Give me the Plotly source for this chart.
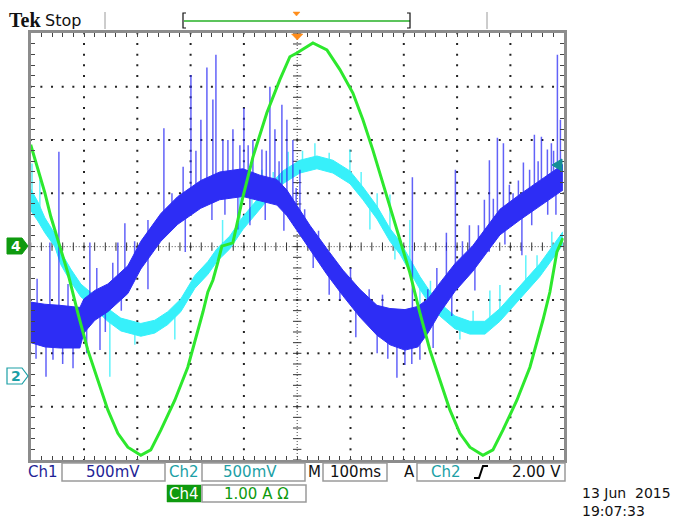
import numpy as np
import plotly.graph_objects as go

# ---------------- data ----------------
# time in ms relative to trigger (100 ms/div)
ch4_t = [-500, -486.5, -473.4, -462.2, -449.1, -430.3, -411.6, -392.8, -374.1, -355.3, -336.5, -317.8,
         -293.4, -274.7, -255.9, -229.6, -205.3, -182.6, -177.0, -167.6, -158.2, -148.8, -141.3, -120.7,
         -101.9, -83.1, -56.9, -32.5, -13.7, -0.6, 29.5, 55.7, 80.1, 104.5, 123.3, 142.0, 155.2, 168.3,
         187.1, 196.4, 211.4, 230.2, 249.0, 267.7, 286.5, 305.3, 324.0, 348.4, 367.2, 385.9, 412.2,
         436.6, 461.0, 474.1, 487.2, 498.5]
ch4_amp = [1.91, 1.44, 1.01, 0.56, 0.13, -0.49, -1.24, -1.94, -2.50, -3.06, -3.50, -3.76,
           -3.91, -3.81, -3.44, -2.88, -2.26, -1.47, -1.23, -0.85, -0.63, -0.29, 0.01, 0.07,
           0.93, 1.68, 2.51, 3.13, 3.56, 3.63, 3.82, 3.69, 3.32, 2.88, 2.38, 1.81, 1.38, 0.93,
           0.31, 0.03, -0.49, -1.24, -1.94, -2.50, -3.06, -3.50, -3.76, -3.91, -3.81, -3.44, -2.88,
           -2.26, -1.38, -0.85, -0.10, 0.16]

ch2_t = [-500, -486.5, -473.4, -454.7, -443.4, -424.8, -406.0, -387.2, -355.3, -330.9, -293.4, -267.2,
         -242.8, -218.4, -191.9, -167.6, -150.7, -126.3, -101.9, -79.4, -56.9, -26.8, 5.1, 37.0, 67.0,
         98.9, 123.3, 149.6, 174.0, 192.7, 211.4, 230.2, 249.0, 267.7, 295.9, 324.0, 352.2, 380.3,
         417.8, 455.3, 492.8, 498.5]
ch2_volt = [1.64, 1.53, 1.40, 1.26, 1.09, 0.93, 0.79, 0.71, 0.56, 0.47, 0.42, 0.45,
            0.53, 0.65, 0.87, 1.00, 1.12, 1.24, 1.42, 1.56, 1.69, 1.85, 1.95, 1.99, 1.95,
            1.85, 1.70, 1.52, 1.31, 1.19, 1.03, 0.86, 0.72, 0.61, 0.49, 0.44, 0.44, 0.56,
            0.77, 0.98, 1.24, 1.28]
ch2_ripple = [0.10, 0.09, 0.07, 0.06, 0.06, 0.06, 0.06, 0.06, 0.06, 0.06, 0.06, 0.06,
              0.06, 0.06, 0.06, 0.06, 0.06, 0.06, 0.06, 0.06, 0.06, 0.06, 0.06, 0.06, 0.06,
              0.06, 0.06, 0.06, 0.06, 0.06, 0.06, 0.06, 0.06, 0.06, 0.06, 0.06, 0.06, 0.06,
              0.06, 0.06, 0.06, 0.06]

ch1_t = [-500, -473.4, -445.3, -407.7, -400.2, -379.6, -355.3, -317.8, -293.4, -255.9, -224.0, -180.9,
         -145.3, -101.9, -70.0, -38.1, -19.3, 5.1, 23.8, 55.7, 85.7, 117.6, 149.6, 174.0, 202.1,
         226.5, 245.3, 267.7, 295.9, 329.6, 380.3, 417.8, 455.3, 498.5]
ch1_volt = [-0.71, -0.74, -0.75, -0.76, -0.65, -0.55, -0.48, -0.31, -0.08, 0.18, 0.34, 0.49,
            0.57, 0.60, 0.55, 0.51, 0.41, 0.23, 0.09, -0.14, -0.34, -0.53, -0.69, -0.75, -0.78,
            -0.75, -0.65, -0.48, -0.29, -0.11, 0.23, 0.37, 0.50, 0.65]
ch1_ripple = [0.19, 0.20, 0.20, 0.19, 0.16, 0.14, 0.13, 0.13, 0.13, 0.13, 0.13, 0.13,
              0.13, 0.13, 0.12, 0.12, 0.12, 0.12, 0.11, 0.12, 0.12, 0.13, 0.14, 0.17, 0.19,
              0.19, 0.16, 0.14, 0.13, 0.12, 0.12, 0.12, 0.12, 0.12]

ch1_spike_t = [-464.0, -447.1, -389.0, -336.5, -323.3, -250.1, -199.4, -180.7, -169.4, -158.2, -152.5,
               -139.4, -120.6, -107.5, -100.0, -83.1, -66.2, -51.2, -41.8, -28.7, -19.3, -8.1, 5.1,
               216.1, 279.9, 296.8, 323.1, 351.2, 360.6, 375.6, 386.9, 398.1, 424.4, 445.0, 458.2,
               469.4, 476.9, 488.2, 493.8,
               -488.0, -430.0, -376.0, -346.0, -305.0, -280.0, -235.0, -214.0, -190.0, -130.0,
               -92.0, -58.0, -34.0, -2.0, 14.0, 40.0, 100.0, 135.0, 160.0, 245.0, 262.0, 310.0,
               340.0, 368.0, 405.0, 415.0, 436.0, 452.0, 481.0,
               -471.3, -458.2, -420.6, -370.0, -135.6, -111.3, -88.7, 80.1, 187.1, 202.1, 230.2,
               333.4, 389.7, 421.6, 485.4,
               -490.0, -440.0, -395.0, -360.0, -330.0, -280.0, -210.0, -160.0, -60.0, -25.0,
               30.0, 60.0, 110.0, 150.0, 170.0, 215.0, 255.0, 290.0, 360.0, 440.0, 470.0]
ch1_spike_v = [0.04, 0.89, 0.04, 0.04, 0.22, 1.11, 1.61, 1.19, 1.68, 1.38, 1.80,
               1.00, 1.10, 0.95, 1.30, 1.00, 0.91, 1.50, 1.10, 1.33, 1.19, 1.00, 0.72,
               0.65, 0.13, 0.72, 0.20, 0.44, 0.81, 1.02, 0.97, 0.58, 0.79, 1.05, 1.03,
               0.91, 0.97, 1.80, 1.19,
               -0.30, -0.35, -0.20, -0.15, 0.05, 0.25, 0.50, 0.75, 0.90, 1.00,
               0.95, 0.90, 0.80, 0.55, 0.35, 0.15, -0.20, -0.40, -0.45, -0.40, -0.20, 0.05,
               0.20, 0.45, 0.50, 0.62, 0.72, 0.80, 0.90,
               -1.22, -1.06, -1.14, -0.97, 0.30, 0.16, 0.20, -0.50, -1.23, -1.11, -1.06,
               -0.41, 0.02, -0.08, 0.30,
               -1.05, -1.10, -1.00, -0.80, -0.60, -0.40, -0.05, 0.25, 0.25, 0.15,
               -0.20, -0.45, -0.85, -1.00, -1.05, -1.10, -0.95, -0.65, -0.05, 0.20, 0.30]

ch2_spike_t = [-497.6, -482.8, -107.5, -66.2, -16.9, 33.2, 98.9, 174.0, 211.4, 361.5, 380.3, 428.9,
               477.7, -351.5, -304.6, -229.6, 136.4, 183.3, 230.2, 305.3,
               -140.0, -85.0, -45.0, 10.0, 60.0, 120.0, 150.0, 250.0, 330.0, 400.0, 450.0]
ch2_spike_v = [1.98, 1.83, 1.78, 1.92, 2.09, 2.17, 2.11, 1.69, 1.45, 0.79, 0.84, 1.12,
               1.34, -0.02, 0.28, 0.33, 1.36, 1.08, 0.51, 0.33,
               1.45, 1.75, 1.90, 2.10, 2.08, 1.90, 1.70, 0.88, 0.60, 0.72, 1.12]

# scope channel settings (scale per div, position in div)
CH1_SCALE, CH1_POS = 0.5, 0.0
CH2_SCALE, CH2_POS = 0.5, -2.4
CH4_SCALE, CH4_POS = 1.0, 0.0

W, H = 689, 519
X0, X1, Y0, Y1 = 30.7, 563.7, 33.3, 460.0


def PX(x):
    return x / W


def PY(y):
    return 1 - y / H


def div1(v):
    return np.asarray(v, dtype=float) / CH1_SCALE + CH1_POS


def div2(v):
    return np.asarray(v, dtype=float) / CH2_SCALE + CH2_POS


def div4(v):
    return np.asarray(v, dtype=float) / CH4_SCALE + CH4_POS


BLUE = "rgb(45,45,245)"
BLUE_S = "rgba(45,45,245,0.75)"
CYAN = "rgb(55,240,250)"
CYAN_S = "rgba(55,240,250,0.8)"
GREEN = "rgb(45,232,45)"
TEAL = "#1c9fa6"
NAVY = "#1f1f96"
DGREEN = "#0f9a0f"

fig = go.Figure()

# ---------- graticule dots ----------
gx, gy = [], []
for xv in range(-400, 401, 100):
    if xv == 0:
        continue
    for yv in np.arange(-4, 4.001, 0.2):
        gx.append(xv); gy.append(yv)
for yv in [-3, -2, -1, 1, 2, 3]:
    for xv in np.arange(-500, 500.1, 20):
        gx.append(xv); gy.append(yv)
fig.add_trace(go.Scatter(x=gx, y=gy, mode="markers", hoverinfo="skip",
                         marker=dict(symbol="square", size=2, color="#222222", line=dict(width=0))))

# center cross-hair ticks
cx = list(np.arange(-500, 500.1, 20))
fig.add_trace(go.Scatter(x=cx, y=[0] * len(cx), mode="markers", hoverinfo="skip",
                         marker=dict(symbol="line-ns", size=6, line=dict(width=1, color="#333333"))))
cy = list(np.arange(-4, 4.001, 0.2))
fig.add_trace(go.Scatter(x=[0] * len(cy), y=cy, mode="markers", hoverinfo="skip",
                         marker=dict(symbol="line-ew", size=6, line=dict(width=1, color="#333333"))))

# ---------- Ch2 (cyan) ----------
c2 = np.asarray(ch2_volt); r2 = np.asarray(ch2_ripple)
base2 = np.interp(ch2_spike_t, ch2_t, ch2_volt)
sx, sy = [], []
for t, v, b in zip(ch2_spike_t, ch2_spike_v, base2):
    sx += [t, t, None]; sy += [div2(b), div2(v), None]
fig.add_trace(go.Scatter(x=sx, y=sy, mode="lines", line=dict(color=CYAN_S, width=1.5), hoverinfo="skip"))
fig.add_trace(go.Scatter(x=ch2_t, y=div2(c2 - r2), mode="lines", line=dict(color=CYAN, width=1),
                         hoverinfo="skip"))
fig.add_trace(go.Scatter(x=ch2_t, y=div2(c2 + r2), mode="lines", line=dict(color=CYAN, width=1),
                         fill="tonexty", fillcolor=CYAN, hoverinfo="skip"))

# ---------- Ch1 (blue) ----------
c1 = np.asarray(ch1_volt); r1 = np.asarray(ch1_ripple)
base1 = np.interp(ch1_spike_t, ch1_t, ch1_volt)
sx, sy = [], []
for t, v, b in zip(ch1_spike_t, ch1_spike_v, base1):
    sx += [t, t, None]; sy += [div1(b), div1(v), None]
fig.add_trace(go.Scatter(x=sx, y=sy, mode="lines", line=dict(color=BLUE_S, width=1.5), hoverinfo="skip"))
fig.add_trace(go.Scatter(x=ch1_t, y=div1(c1 - r1), mode="lines", line=dict(color=BLUE, width=1),
                         hoverinfo="skip"))
fig.add_trace(go.Scatter(x=ch1_t, y=div1(c1 + r1), mode="lines", line=dict(color=BLUE, width=1),
                         fill="tonexty", fillcolor=BLUE, hoverinfo="skip"))

# ---------- Ch4 (green) ----------
fig.add_trace(go.Scatter(x=ch4_t, y=div4(ch4_amp), mode="lines", line=dict(color=GREEN, width=3),
                         hoverinfo="skip"))

shapes = []
# center dotted lines
shapes.append(dict(type="line", xref="x", yref="y", x0=0, x1=0, y0=-4, y1=4,
                   line=dict(color="#444444", width=1, dash="1px,2px"), layer="below"))
shapes.append(dict(type="line", xref="x", yref="y", x0=-500, x1=500, y0=0, y1=0,
                   line=dict(color="#444444", width=1, dash="1px,2px"), layer="below"))


def rect(x0, y0, x1, y1, fill="white", line="#9a9a9a", lw=1.5):
    shapes.append(dict(type="rect", xref="paper", yref="paper", x0=PX(x0), x1=PX(x1),
                       y0=PY(y1), y1=PY(y0), fillcolor=fill, line=dict(color=line, width=lw)))


def path(pts, fill=None, line="#000", lw=1, close=True):
    d = "M " + " L ".join(f"{PX(x):.5f},{PY(y):.5f}" for x, y in pts) + (" Z" if close else "")
    s = dict(type="path", xref="paper", yref="paper", path=d, line=dict(color=line, width=lw))
    if fill:
        s["fillcolor"] = fill
    shapes.append(s)


# bottom readout boxes
rect(62, 463, 165, 481)
rect(202, 463, 305, 481)
rect(323, 463, 387, 481)
rect(417, 463, 565, 481)
rect(167, 485, 201, 502, fill=DGREEN, line=DGREEN, lw=0.5)
rect(202, 485, 306, 502)
# trigger slope glyph
path([(474, 478), (479, 478), (483, 466), (488, 466)], line="#000", lw=2, close=False)

# top bar
shapes.append(dict(type="line", xref="paper", yref="paper", x0=PX(105), x1=PX(105), y0=PY(29), y1=PY(12),
                   line=dict(color="#9a9a9a", width=1)))
shapes.append(dict(type="line", xref="paper", yref="paper", x0=PX(487), x1=PX(487), y0=PY(29), y1=PY(12),
                   line=dict(color="#9a9a9a", width=1)))
shapes.append(dict(type="line", xref="paper", yref="paper", x0=PX(184), x1=PX(410), y0=PY(21), y1=PY(21),
                   line=dict(color="#5cc45c", width=2)))
path([(186, 13), (183, 13), (183, 28), (186, 28)], line="#111", lw=1.2, close=False)
path([(407, 13), (410, 13), (410, 28), (407, 28)], line="#111", lw=1.2, close=False)
path([(293, 12), (300, 12), (296.5, 16)], fill="#ff8c1a", line="#ff8c1a", lw=0.5)
# trigger position marker on graticule
path([(291.5, 34), (303, 34), (297.3, 40)], fill="#ff8c1a", line="#ff8c1a", lw=0.5)

# left channel markers
path([(7, 238), (22, 238), (28, 246), (22, 254), (7, 254)], fill=DGREEN, line=DGREEN, lw=1)
path([(7, 368), (22, 368), (28, 376), (22, 384), (7, 384)], fill="white", line=TEAL, lw=1.2)
# right trigger level arrow
path([(552, 165), (562, 159), (562, 171)], fill="#138f96", line="#138f96", lw=1)

annotations = []


def txt(s, x, y, size=15, color="#000", anchor="center", family="DejaVu Sans", bold=False):
    if bold:
        s = "<b>" + s + "</b>"
    annotations.append(dict(text=s, x=PX(x), y=PY(y), xref="paper", yref="paper", showarrow=False,
                            xanchor=anchor, yanchor="middle", align="left",
                            font=dict(size=size, color=color, family=family)))


txt("Tek", 7, 20, size=20, color="#111", anchor="left", family="Liberation Serif", bold=True)
txt("Stop", 43, 20, size=16, color="#111", anchor="left")
txt("4", 16, 246, size=14, color="white", bold=True)
txt("2", 16, 376, size=14, color=TEAL, bold=True)

txt("Ch1", 43, 472, color=NAVY)
txt("500mV", 113, 472, color=NAVY)
txt("Ch2", 184, 472, color=TEAL)
txt("500mV", 250, 472, color=TEAL)
txt("M", 314, 472, color="#111")
txt("100ms", 355, 472, color="#111")
txt("A", 409, 472, color="#111")
txt("Ch2", 446, 472, color=TEAL)
txt("2.00 V", 536, 472, color="#111")
txt("Ch4", 184, 494, color="white")
txt("1.00 A \u03a9", 256, 494, color=DGREEN)
txt("13 Jun  2015<br>19:07:33", 580, 502, size=14, color="#111", anchor="left")

fig.update_layout(
    width=W, height=H, autosize=False,
    margin=dict(l=0, r=0, t=0, b=0),
    paper_bgcolor="white", plot_bgcolor="white",
    showlegend=False,
    shapes=shapes, annotations=annotations,
    xaxis=dict(domain=[PX(X0), PX(X1)], range=[-500, 500], showgrid=False, zeroline=False,
               showticklabels=False, tickmode="array", tickvals=list(np.arange(-500, 500.1, 20)),
               ticks="inside", ticklen=4, tickwidth=1, tickcolor="#444",
               showline=True, linecolor="#8c8c8c", linewidth=3, mirror="ticks", fixedrange=True),
    yaxis=dict(domain=[PY(Y1), PY(Y0)], range=[-4, 4], showgrid=False, zeroline=False,
               showticklabels=False, tickmode="array", tickvals=list(np.arange(-4, 4.001, 0.2)),
               ticks="inside", ticklen=4, tickwidth=1, tickcolor="#444",
               showline=True, linecolor="#8c8c8c", linewidth=3, mirror="ticks", fixedrange=True),
)

fig.write_html("out.html", config={"displayModeBar": False},
               post_script="document.body.style.margin='0px';document.body.style.overflow='hidden';")
